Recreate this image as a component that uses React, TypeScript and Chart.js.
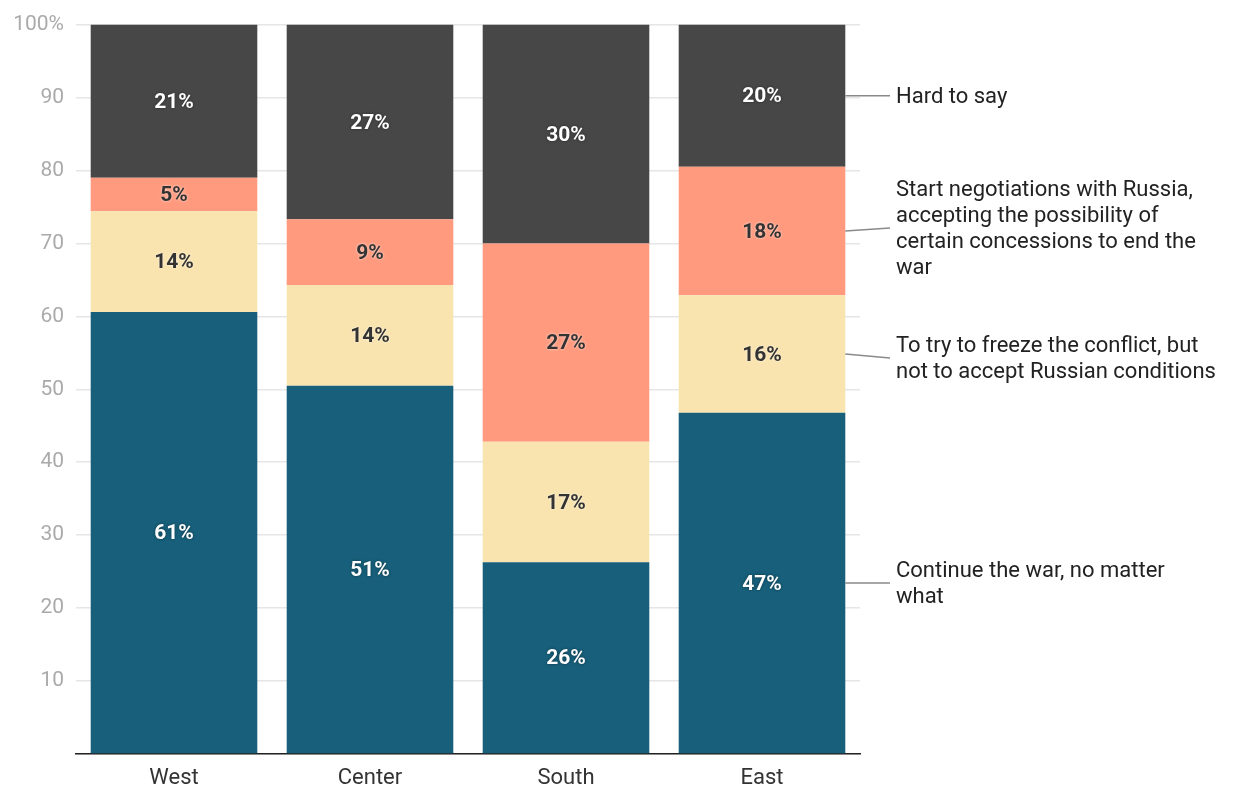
import React, { useEffect, useRef } from "react";
import { Chart, registerables } from "chart.js";

Chart.register(...registerables);

const regions = ["West", "Center", "South", "East"];
const continueWar = [60.6, 50.5, 26.3, 46.8];
const freezeConflict = [13.8, 13.8, 16.5, 16.1];
const startNegotiations = [4.6, 9.0, 27.2, 17.6];
const hardToSay = [21.0, 26.7, 30.0, 19.5];

const seriesNames = [
  ["Continue the war, no matter", "what"],
  ["To try to freeze the conflict, but", "not to accept Russian conditions"],
  ["Start negotiations with Russia,", "accepting the possibility of", "certain concessions to end the", "war"],
  ["Hard to say"],
];
const seriesColors = ["#175F7A", "#F9E4AF", "#FF9A7E", "#474747"];
const labelColors = ["#ffffff", "#333333", "#333333", "#ffffff"];
const yTicks = [0, 10, 20, 30, 40, 50, 60, 70, 80, 90, 100];

const FONT = "Roboto, 'Noto Sans', sans-serif";

const segmentLabels = {
  id: "segmentLabels",
  afterDatasetsDraw(chart: any) {
    const ctx = chart.ctx;
    ctx.save();
    ctx.font = `bold 21px ${FONT}`;
    ctx.textAlign = "center";
    ctx.textBaseline = "middle";
    chart.data.datasets.forEach((ds: any, di: number) => {
      const meta = chart.getDatasetMeta(di);
      meta.data.forEach((bar: any, i: number) => {
        const v = ds.data[i];
        const cy = (bar.y + bar.base) / 2;
        const white = labelColors[di] === "#ffffff";
        ctx.shadowColor = white ? "rgba(0,0,0,0.45)" : "rgba(255,255,255,0.7)";
        ctx.shadowBlur = 3;
        ctx.fillStyle = labelColors[di];
        ctx.fillText(Math.round(v) + "%", bar.x, cy + 1.5);
      });
    });
    ctx.restore();
  },
};

const sideLabels = {
  id: "sideLabels",
  afterDraw(chart: any) {
    const ctx = chart.ctx;
    ctx.save();
    const lineH = 26;
    const textX = 896;
    chart.data.datasets.forEach((ds: any, di: number) => {
      const meta = chart.getDatasetMeta(di);
      const bar: any = meta.data[meta.data.length - 1];
      const cy = (bar.y + bar.base) / 2;
      const lines = seriesNames[di];
      let ty = cy;
      if (di === 2) ty = cy - 3;
      if (di === 1) ty = cy + 4;
      ctx.strokeStyle = "#8a8a8a";
      ctx.lineWidth = 1.5;
      ctx.beginPath();
      ctx.moveTo(bar.x + bar.width / 2, cy);
      ctx.lineTo(textX - 6, ty);
      ctx.stroke();
      ctx.fillStyle = "#222222";
      ctx.font = `22px ${FONT}`;
      ctx.textAlign = "left";
      ctx.textBaseline = "middle";
      const startY = ty - ((lines.length - 1) * lineH) / 2 + 1.5;
      lines.forEach((l, k) => ctx.fillText(l, textX, startY + k * lineH));
    });
    ctx.restore();
  },
};

export default function App() {
  const ref = useRef<HTMLCanvasElement | null>(null);
  useEffect(() => {
    if (!ref.current) return;
    const seriesData = [continueWar, freezeConflict, startNegotiations, hardToSay];
    const chart = new Chart(ref.current, {
      type: "bar",
      data: {
        labels: regions,
        datasets: seriesData.map((d, i) => ({
          label: seriesNames[i].join(" "),
          data: d,
          backgroundColor: seriesColors[i],
          borderWidth: 0,
          barPercentage: 0.85,
          categoryPercentage: 1,
        })),
      },
      options: {
        animation: false,
        responsive: true,
        maintainAspectRatio: false,
        layout: { padding: { top: 23, right: 376, left: 0, bottom: 0 } },
        plugins: {
          legend: { display: false },
          tooltip: { enabled: false },
        },
        scales: {
          x: {
            stacked: true,
            grid: { display: false, drawTicks: false },
            border: { display: true, color: "#222", width: 1.5 },
            ticks: { color: "#333", font: { family: FONT, size: 22 }, padding: 11 },
            afterFit: (s: any) => {
              s.height = 34;
            },
          },
          y: {
            stacked: true,
            min: 0,
            max: 100,
            afterBuildTicks: (s: any) => {
              s.ticks = yTicks.map((v) => ({ value: v }));
            },
            grid: { color: "#e6e6e6", lineWidth: 1.5, drawTicks: false },
            border: { display: false },
            ticks: {
              color: "#aaaaaa",
              font: { family: FONT, size: 21 },
              padding: 12,
              callback: (v: any) => (v === 100 ? "100%" : v === 0 ? "" : String(v)),
            },
            afterFit: (s: any) => {
              s.width = 76;
            },
          },
        },
      },
      plugins: [segmentLabels, sideLabels],
    });
    return () => chart.destroy();
  }, []);
  return (
    <div style={{ position: "fixed", left: 0, top: 0, width: 1236, height: 788, background: "#fff" }}>
      <canvas ref={ref} />
    </div>
  );
}
